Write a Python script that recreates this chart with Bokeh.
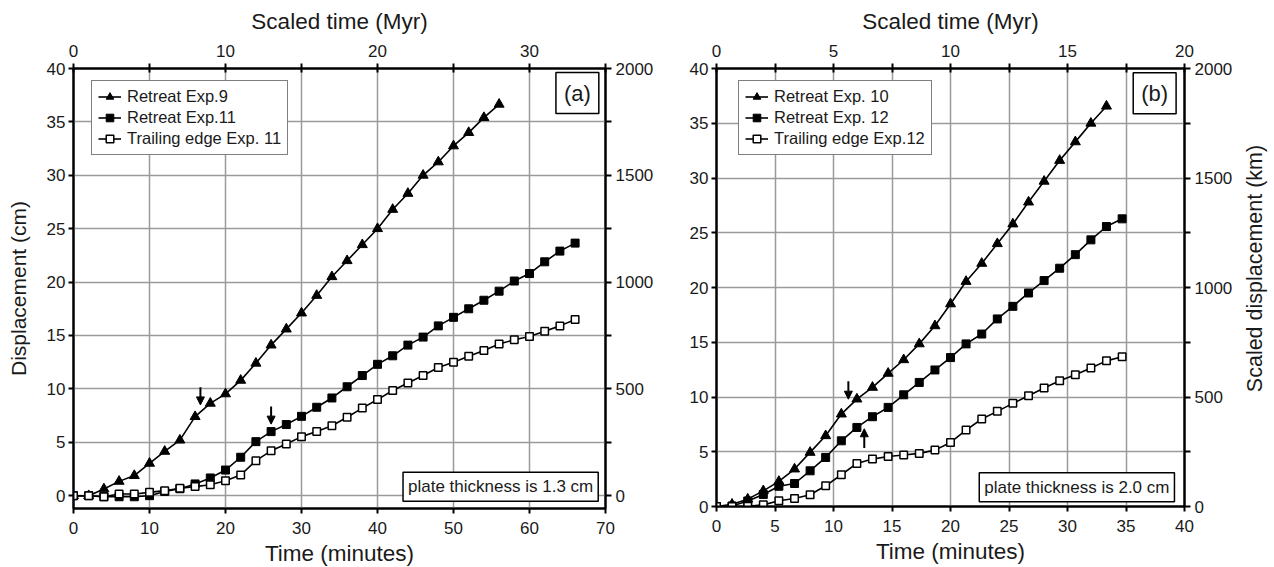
import math
from bokeh.plotting import figure
from bokeh.models import (Range1d, LinearAxis, FixedTicker, Legend, LegendItem,
                          Label, Arrow, NormalHead)
from bokeh.layouts import row
from bokeh.embed import file_html
from bokeh.resources import INLINE

FONT = "Liberation Sans"
TXT = "#1a1a1a"

# ---------------- data: panel (a) ----------------
time_a = [0, 2, 4, 6, 8, 10, 12, 14, 16, 18, 20, 22, 24, 26, 28, 30, 32, 34,
          36, 38, 40, 42, 44, 46, 48, 50, 52, 54, 56, 58, 60, 62, 64, 66]
retreat_exp9 = [0, 0, 0.63, 1.34, 1.88, 3.03, 4.15, 5.2, 7.4, 8.65,
                9.53, 10.8, 12.4, 14.1, 15.6, 17.1, 18.75, 20.5, 22.0, 23.5,
                25.0, 26.8, 28.3, 30.0, 31.25, 32.75, 34.0, 35.4, 36.65]
retreat_exp11 = [0, 0, -0.1, -0.1, -0.1, 0, 0.4, 0.65, 1.1, 1.66,
                 2.4, 3.6, 5.06, 6.0, 6.66, 7.43, 8.28, 9.15, 10.2, 11.25,
                 12.3, 13.1, 14.1, 14.85, 15.9, 16.7, 17.5, 18.3, 19.15, 20.1,
                 20.8, 21.9, 22.9, 23.65]
trailing_exp11 = [0, 0, -0.1, 0.16, 0.16, 0.31, 0.47, 0.7, 0.85, 1.03,
                  1.4, 1.94, 3.28, 4.2, 4.84, 5.53, 6.0, 6.55, 7.35, 8.2,
                  9.0, 9.85, 10.55, 11.25, 12.0, 12.5, 13.06, 13.6, 14.2, 14.6,
                  14.9, 15.4, 15.9, 16.5]

# ---------------- data: panel (b) ----------------
time_b = [0, 1.33, 2.67, 4, 5.33, 6.67, 8, 9.33, 10.67, 12, 13.33, 14.67, 16,
          17.33, 18.67, 20, 21.33, 22.67, 24, 25.33, 26.67, 28, 29.33, 30.67,
          32, 33.33, 34.67]
retreat_exp10 = [0, 0.2, 0.67, 1.43, 2.29, 3.42, 4.94, 6.46, 8.44, 9.81,
                 10.88, 12.16, 13.4, 14.85, 16.5, 18.5, 20.55, 22.2, 24.0, 25.8,
                 27.8, 29.7, 31.6, 33.3, 35.0, 36.56]
retreat_exp12 = [0, 0.05, 0.5, 1.1, 1.85, 2.1, 3.26, 4.48, 6.0, 7.22,
                 8.2, 9.05, 10.2, 11.33, 12.47, 13.6, 14.85, 15.75, 17.13, 18.28,
                 19.5, 20.63, 21.76, 23.0, 24.35, 25.57, 26.27]
trailing_exp12 = [0, 0, 0.02, 0.15, 0.52, 0.73, 1.07, 1.89, 2.9, 3.93,
                  4.33, 4.57, 4.7, 4.85, 5.15, 5.85, 6.98, 7.99, 8.69, 9.42,
                  10.12, 10.82, 11.49, 12.04, 12.65, 13.3, 13.68]

labels_a = ["Retreat Exp.9", "Retreat Exp.11", "Trailing edge Exp. 11"]
labels_b = ["Retreat Exp. 10", "Retreat Exp. 12", "Trailing edge Exp.12"]


def style_axis(ax, tin=0, tout=5, label_size="22.5px"):
    ax.axis_line_width = 2
    ax.axis_line_color = "black"
    ax.major_tick_line_width = 2
    ax.minor_tick_line_width = 2
    ax.major_tick_line_color = "black"
    ax.minor_tick_line_color = "black"
    ax.major_tick_in = tin
    ax.major_tick_out = tout
    ax.minor_tick_in = tin
    ax.minor_tick_out = tout
    ax.major_label_text_font = FONT
    ax.major_label_text_font_size = "17px"
    ax.major_label_text_color = TXT
    ax.axis_label_text_font = FONT
    ax.axis_label_text_font_size = label_size
    ax.axis_label_text_font_style = "normal"
    ax.axis_label_text_color = TXT


def make_panel(xmax, ymin, myr_max, xstep, myr_major, myr_minor,
               t1, y1, t2, y2, t3, y3, labels, letter, plate_text,
               frame_w, frame_h, mb_left, mb_right, show_left_label,
               legend_loc, letter_xy, plate_xy, arrows):
    p = figure(frame_width=frame_w, frame_height=frame_h,
               x_range=Range1d(0, xmax), y_range=Range1d(ymin, 40),
               output_backend="svg", toolbar_location=None,
               min_border_left=mb_left, min_border_right=mb_right,
               min_border_top=68, min_border_bottom=55,
               background_fill_color="white", border_fill_color="white")
    p.outline_line_color = "black"
    p.outline_line_width = 2

    p.extra_x_ranges = {"myr": Range1d(0, myr_max)}
    p.extra_y_ranges = {"km": Range1d(ymin * 50, 2000)}

    bottom = p.below[0]
    left = p.left[0]
    bottom.ticker = FixedTicker(ticks=list(range(0, int(xmax) + 1, xstep)))
    left.ticker = FixedTicker(ticks=[0, 5, 10, 15, 20, 25, 30, 35, 40])
    style_axis(bottom, 0, 5)
    style_axis(left, 0, 5, "21px")
    bottom.axis_label = "Time (minutes)"
    bottom.major_label_standoff = 8
    bottom.axis_label_standoff = 4
    left.major_label_standoff = 3
    if show_left_label:
        left.axis_label = "Displacement (cm)"
        left.axis_label_standoff = 14

    top = LinearAxis(x_range_name="myr",
                     ticker=FixedTicker(ticks=myr_major, minor_ticks=myr_minor),
                     axis_label="Scaled time (Myr)")
    style_axis(top, 4, 5)
    top.major_label_standoff = 7
    top.axis_label_standoff = 8
    p.add_layout(top, "above")

    right = LinearAxis(y_range_name="km",
                       ticker=FixedTicker(ticks=[0, 500, 1000, 1500, 2000],
                                          minor_ticks=[250, 750, 1250, 1750]))
    style_axis(right, 0, 6, "21.5px")
    right.major_label_standoff = 4
    p.add_layout(right, "right")

    p.xgrid.grid_line_color = "#9a9a9a"
    p.ygrid.grid_line_color = "#9a9a9a"
    p.xgrid.grid_line_width = 1.5
    p.ygrid.grid_line_width = 1.5

    l1 = p.line(t1, y1, line_color="black", line_width=1.6)
    s1 = p.scatter(t1, y1, marker="triangle", size=10, fill_color="black",
                   line_color="black")
    l2 = p.line(t2, y2, line_color="black", line_width=1.6)
    s2 = p.scatter(t2, y2, marker="square", size=8, fill_color="black",
                   line_color="black")
    l3 = p.line(t3, y3, line_color="black", line_width=1.6)
    s3 = p.scatter(t3, y3, marker="square", size=7.5, fill_color="white",
                   line_color="black", line_width=1.5)

    legend = Legend(items=[LegendItem(label=labels[0], renderers=[l1, s1]),
                           LegendItem(label=labels[1], renderers=[l2, s2]),
                           LegendItem(label=labels[2], renderers=[l3, s3])],
                    location=legend_loc, margin=0, padding=6, spacing=2,
                    glyph_height=19, glyph_width=23, label_height=19,
                    label_standoff=6, label_text_font=FONT,
                    label_text_font_size="16.5px", label_text_color=TXT,
                    border_line_color="black", border_line_width=1.5,
                    background_fill_color="white", background_fill_alpha=1)
    p.add_layout(legend)

    p.add_layout(Label(x=letter_xy[0], y=letter_xy[1], text=letter,
                       text_font=FONT, text_font_size="22px", text_color=TXT,
                       text_align="center", text_baseline="middle",
                       padding=8, border_line_color="black",
                       border_line_width=1.5, background_fill_color="white"))
    p.add_layout(Label(x=plate_xy[0], y=plate_xy[1], text=plate_text,
                       text_font=FONT, text_font_size="17px", text_color=TXT,
                       text_align="center", text_baseline="middle",
                       padding=5, border_line_color="black",
                       border_line_width=1.5, background_fill_color="white"))
    for (xa, ys, ye) in arrows:
        p.add_layout(Arrow(x_start=xa, y_start=ys, x_end=xa, y_end=ye,
                           line_color="black", line_width=2,
                           end=NormalHead(size=8, fill_color="black",
                                          line_color="black")))
    return p


pa = make_panel(70, -1.2, 35, 10, [0, 10, 20, 30], [5, 15, 25, 35],
                time_a[:len(retreat_exp9)], retreat_exp9,
                time_a, retreat_exp11, time_a, trailing_exp11,
                labels_a, "(a)", "plate thickness is 1.3 cm",
                532, 440, 73, 45, True, (18, 353),
                (66.3, 37.7), (56.2, 0.84),
                [(16.7, 10.15, 8.5), (26.0, 8.35, 6.7)])

pb = make_panel(40, 0, 20, 5, [0, 5, 10, 15, 20], [2.5, 7.5, 12.5, 17.5],
                time_b[:len(retreat_exp10)], retreat_exp10,
                time_b, retreat_exp12, time_b, trailing_exp12,
                labels_b, "(b)", "plate thickness is 2.0 cm",
                468, 438, 60, 50, False, (22, 351),
                (37.45, 37.75), (30.8, 1.75),
                [(11.27, 11.43, 9.8), (12.63, 5.34, 7.1)])

# narrow strip carrying the right-hand axis title of panel (b), reading upward
LAB_W, LAB_H = 38, 438
lab = figure(frame_width=LAB_W, frame_height=LAB_H,
             x_range=Range1d(0, LAB_W), y_range=Range1d(0, LAB_H),
             x_axis_type=None, y_axis_type=None, min_border=0,
             output_backend="svg", toolbar_location=None)
lab.outline_line_color = None
lab.add_layout(Label(x=19, y=LAB_H - 200, text="Scaled displacement (km)",
                     angle=math.pi / 2, text_font=FONT, text_font_size="21.5px",
                     text_color=TXT, text_align="center",
                     text_baseline="middle"))

layout = row(pa, pb, lab)
open("out.html", "w").write(file_html(layout, INLINE))
